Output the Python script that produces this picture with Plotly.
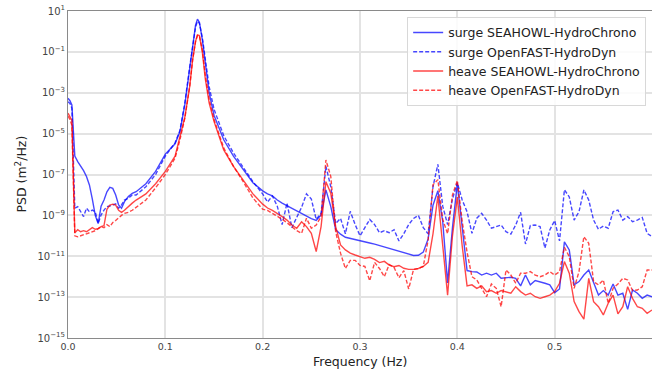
import plotly.graph_objects as go

# Frequency axis (Hz)
freq = [0.0, 0.002, 0.004, 0.007, 0.01, 0.013, 0.016, 0.019, 0.022, 0.025, 0.028, 0.031,
        0.034, 0.037, 0.04, 0.043, 0.046, 0.049, 0.052, 0.055, 0.058, 0.062, 0.066, 0.07,
        0.08, 0.09, 0.1, 0.11, 0.115, 0.12, 0.125, 0.128, 0.131, 0.133, 0.135, 0.138,
        0.141, 0.145, 0.15, 0.16, 0.17, 0.18, 0.19,
        0.2, 0.205, 0.21, 0.215, 0.22, 0.225, 0.23, 0.235, 0.24, 0.245, 0.25, 0.255,
        0.26, 0.265, 0.27, 0.275, 0.28, 0.285, 0.29, 0.295, 0.3, 0.305, 0.31, 0.315,
        0.32, 0.325, 0.33, 0.335, 0.34, 0.345, 0.35, 0.355, 0.36, 0.365, 0.37, 0.375,
        0.38, 0.385, 0.39, 0.395, 0.4, 0.405, 0.41, 0.415, 0.42, 0.425, 0.43, 0.435,
        0.44, 0.445, 0.45, 0.455, 0.46, 0.465, 0.47, 0.475, 0.48, 0.485, 0.49, 0.495,
        0.5, 0.505, 0.51, 0.515, 0.52, 0.525, 0.53, 0.535, 0.54, 0.545, 0.55, 0.555,
        0.56, 0.565, 0.57, 0.575, 0.58, 0.585, 0.59, 0.595, 0.6]

# log10 of PSD (m^2/Hz)
surge_seahowl_log10 = [
    -3.27, -3.39, -3.6, -6.1, -6.37, -6.58, -6.81, -7.1, -7.51, -8.2, -9.0, -9.4,
    -8.55, -8.25, -7.85, -7.63, -7.68, -8.0, -8.49, -8.65, -8.33, -8.08, -7.92, -7.84,
    -7.45, -6.85, -6.0, -5.5, -4.9, -3.6, -1.8, -0.7, 0.3, 0.6, 0.45, -0.4,
    -1.5, -3.0, -4.1, -5.3, -6.1, -6.75, -7.4,
    -7.8, -7.95, -8.05, -8.25, -8.4, -8.53, -8.66, -8.78, -8.9, -9.03, -9.16, -9.25,
    -8.98, -7.75, -8.57, -9.7, -9.92, -10.07, -10.12, -10.17, -10.22, -10.28, -10.35, -10.41,
    -10.48, -10.54, -10.61, -10.67, -10.75, -10.82, -10.9, -10.96, -10.95, -10.8, -10.15, -8.5,
    -7.8, -9.3, -12.3, -9.6, -7.45, -9.6, -11.7, -11.75, -11.77, -11.92, -11.83, -11.92,
    -11.83, -12.08, -12.05, -12.03, -12.08, -12.45, -11.92, -12.4, -12.19, -12.24, -12.32, -12.4,
    -12.78, -12.6, -10.3, -10.69, -12.4, -12.24, -11.92, -11.67, -12.24, -12.9, -12.68, -12.9,
    -12.36, -12.9, -12.81, -13.6, -12.65, -12.81, -13.06, -12.9, -12.98]

surge_openfast_log10 = [
    -3.44, -3.52, -3.76, -8.65, -8.57, -8.82, -9.06, -8.65, -8.82, -8.74, -8.82, -9.39,
    -8.98, -8.74, -8.57, -8.54, -8.49, -8.44, -8.65, -8.49, -8.25, -8.16, -8.0, -8.0,
    -7.6, -7.0, -6.1, -5.45, -4.85, -3.5, -1.75, -0.7, 0.2, 0.5, 0.4, -0.3,
    -1.3, -2.7, -3.8, -5.1, -5.95, -6.65, -7.35,
    -7.95, -8.35, -8.05, -8.55, -9.45, -8.4, -9.6, -9.1, -8.6, -7.95, -8.2, -9.2,
    -8.9, -6.6, -7.6, -9.4, -9.15, -9.9, -8.8, -9.45, -10.0, -9.6, -9.2, -9.45,
    -9.85, -9.75, -9.85, -9.7, -10.25, -9.9, -9.45, -9.15, -9.0, -9.6, -9.9, -7.6,
    -6.5, -8.55, -9.45, -8.2, -7.4, -8.25, -8.82, -9.88, -9.14, -8.9, -9.23, -9.63,
    -9.55, -9.47, -9.8, -9.91, -9.47, -8.85, -10.4, -9.5, -9.47, -9.55, -10.6, -9.71,
    -9.25, -10.25, -7.75, -8.1, -9.23, -8.82, -7.75, -8.25, -9.23, -9.68, -9.52, -9.63,
    -8.82, -8.74, -9.23, -9.06, -9.31, -9.23, -9.1, -9.88, -10.04]

heave_seahowl_log10 = [
    -4.0, -4.15, -4.35, -9.85, -9.7, -9.8, -9.75, -9.8, -9.72, -9.6, -9.68, -9.65,
    -9.55, -9.5, -8.7, -8.5, -8.45, -8.5, -8.75, -8.85, -8.75, -8.55, -8.4, -8.25,
    -7.95, -7.45, -6.85, -6.1, -5.15, -4.2, -2.7, -1.4, -0.5, -0.17, -0.2, -1.0,
    -2.3, -3.5, -4.4, -5.8, -6.6, -7.3, -7.95,
    -8.45, -8.64, -8.76, -8.9, -9.06, -9.23, -9.47, -9.63, -9.31, -9.55, -9.88, -10.77,
    -9.55, -7.35, -7.92, -9.55, -10.45, -10.69, -10.85, -10.94, -11.02, -11.1, -11.05, -11.15,
    -11.31, -11.25, -11.43, -11.51, -11.45, -11.59, -11.64, -11.64, -11.6, -11.5, -11.3, -9.9,
    -8.05, -10.3, -12.9, -10.0, -8.1, -10.5, -12.45, -12.4, -12.57, -12.45, -12.73, -12.68,
    -12.81, -12.68, -12.73, -12.81, -12.49, -12.73, -12.9, -12.81, -12.98, -13.06, -12.98, -12.9,
    -12.73, -12.32, -11.26, -11.83, -13.22, -13.71, -14.08, -12.08, -13.22, -13.47, -13.87, -13.3,
    -12.9, -13.82, -13.47, -12.49, -13.06, -13.47, -13.55, -13.79, -13.63]

heave_openfast_log10 = [
    -4.15, -4.3, -4.6, -10.0, -10.05, -10.0, -9.95, -9.9, -9.85, -9.8, -9.75, -9.65,
    -9.55, -9.6, -9.45, -9.55, -9.35, -9.25, -9.1, -9.0, -8.9, -8.85, -8.75, -8.6,
    -8.25, -7.65, -7.0, -6.2, -5.3, -4.25, -2.7, -1.4, -0.5, -0.2, -0.22, -0.9,
    -2.1, -3.3, -4.3, -5.7, -6.6, -7.35, -8.15,
    -8.7, -8.76, -8.9, -9.03, -9.19, -9.36, -9.55, -9.75, -9.88, -9.14, -9.63, -9.47,
    -9.06, -6.29, -7.1, -9.8, -10.85, -11.6, -11.2, -11.2, -11.45, -11.5, -12.2, -11.3,
    -11.6, -12.0, -11.4, -11.55, -12.05, -11.7, -12.6, -11.65, -11.6, -11.5, -10.2, -7.5,
    -7.25, -9.2, -9.9, -8.0, -7.3, -9.3, -10.8, -12.0, -12.16, -12.57, -12.98, -12.36,
    -12.57, -13.47, -11.67, -11.92, -12.32, -11.83, -11.83, -11.75, -11.92, -12.0, -11.92, -11.75,
    -11.92, -11.75, -10.56, -11.02, -12.57, -11.75, -10.04, -10.37, -12.24, -12.4, -12.16, -13.3,
    -12.57, -12.36, -12.08, -12.16, -12.68, -12.65, -12.49, -11.67, -11.67]

series_names = ["surge SEAHOWL-HydroChrono", "surge OpenFAST-HydroDyn",
                "heave SEAHOWL-HydroChrono", "heave OpenFAST-HydroDyn"]

x_tick_vals = [0.0, 0.1, 0.2, 0.3, 0.4, 0.5, 0.6]
x_tick_text = ["0.0", "0.1", "0.2", "0.3", "0.4", "0.5", "0.6"]
y_tick_exps = [1, -1, -3, -5, -7, -9, -11, -13, -15]


def to_psd(logs):
    return [10 ** v for v in logs]


BLUE = "rgba(0,0,255,0.72)"
RED = "rgba(255,0,0,0.72)"

fig = go.Figure()
styles = [
    (surge_seahowl_log10, BLUE, "solid"),
    (surge_openfast_log10, BLUE, "4px,2px"),
    (heave_seahowl_log10, RED, "solid"),
    (heave_openfast_log10, RED, "4px,2px"),
]
for (vals, col, dash), name in zip(styles, series_names):
    fig.add_trace(go.Scatter(x=freq, y=to_psd(vals), mode="lines", name=name,
                             line=dict(color=col, width=1.4, dash=dash)))


def sup(e):
    s = str(e).replace("-", "\u2212")
    return "10<sup>" + s + "</sup>"


fig.update_layout(
    width=652, height=370,
    margin=dict(l=68, r=0, t=11, b=32, autoexpand=False),
    plot_bgcolor="white", paper_bgcolor="white",
    font=dict(family="DejaVu Sans", color="#222"),
    legend=dict(x=0.99, y=0.982, xanchor="right", yanchor="top",
                bgcolor="rgba(255,255,255,0.85)", bordercolor="#d8d8d8", borderwidth=1,
                font=dict(size=12.5, color="#222"), itemwidth=30, tracegroupgap=0),
    annotations=[
        dict(text="Frequency (Hz)", xref="paper", yref="paper", x=0.5, y=0,
             yshift=-14, xanchor="center", yanchor="top", showarrow=False,
             font=dict(size=12.5, color="#222")),
        dict(text="PSD (m<sup>2</sup>/Hz)", xref="paper", yref="paper", x=0, y=0.5,
             xshift=-38, xanchor="right", yanchor="middle", textangle=-90, showarrow=False,
             font=dict(size=12.5, color="#222")),
    ],
)
fig.update_xaxes(
    range=[0, 0.6], tickvals=x_tick_vals, ticktext=x_tick_text, automargin=False,
    showgrid=True, gridcolor="#e3e3e3", gridwidth=1.5, zeroline=False,
    showline=True, linecolor="#8a8a8a", linewidth=1, mirror=True,
    ticks="", tickfont=dict(size=9.5, color="#444"),
)
fig.update_yaxes(
    type="log", range=[-15, 1], automargin=False,
    tickvals=[10 ** e for e in y_tick_exps], ticktext=[sup(e) for e in y_tick_exps],
    showgrid=True, gridcolor="#e3e3e3", gridwidth=1.5, zeroline=False,
    showline=True, linecolor="#8a8a8a", linewidth=1, mirror=True,
    ticks="", tickfont=dict(size=10, color="#444"),
)

fig.write_html(
    "out.html",
    config={"displayModeBar": False},
    post_script="document.body.style.margin='0';document.body.style.padding='0';"
                "document.body.style.overflow='hidden';"
                "document.documentElement.style.overflow='hidden';",
)
